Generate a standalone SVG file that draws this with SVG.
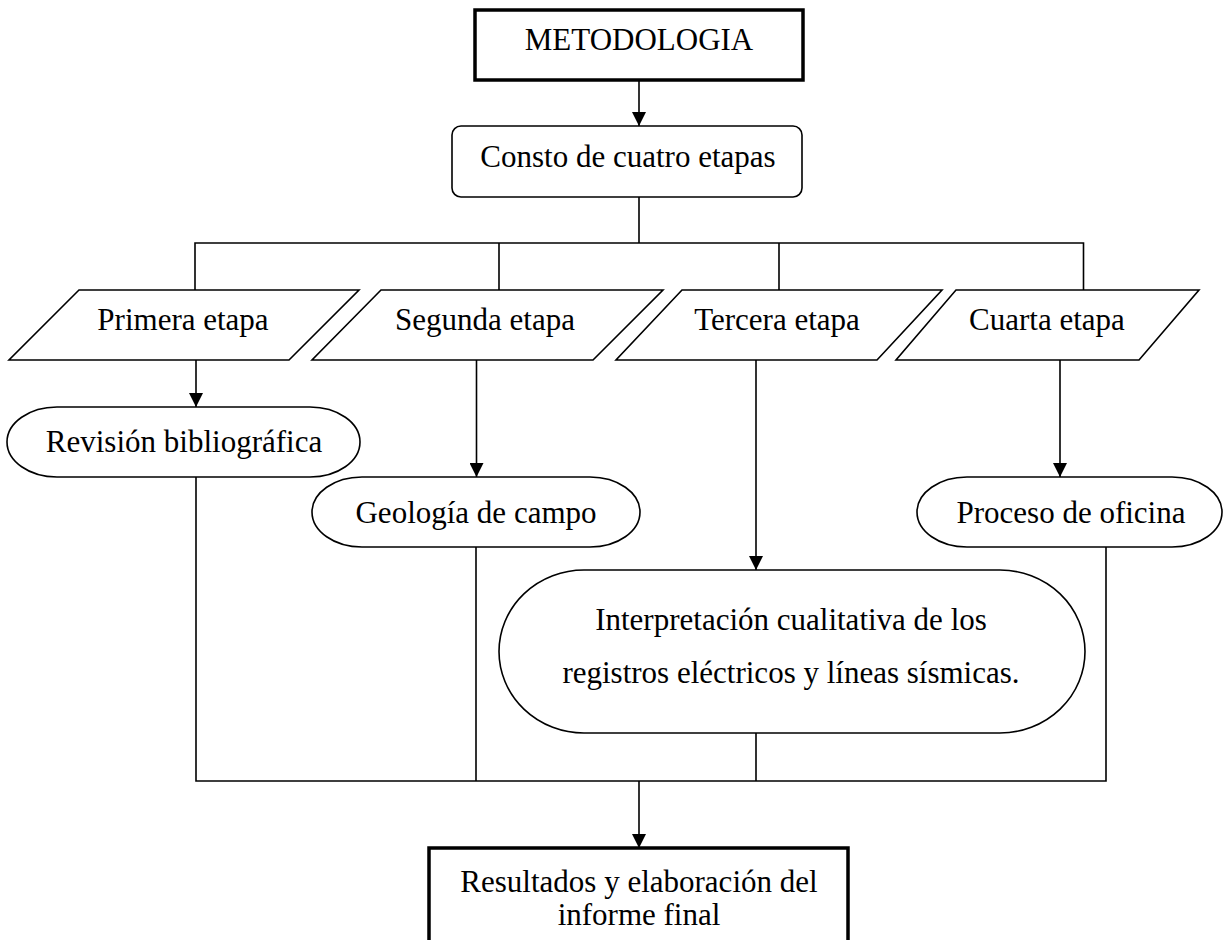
<svg xmlns="http://www.w3.org/2000/svg" width="1224" height="940" viewBox="0 0 1224 940">
<defs>
<style>
.n{fill:#fff;stroke:#000;stroke-width:1.6}
.k{fill:#fff;stroke:#000;stroke-width:3.5}
.c{fill:none;stroke:#000;stroke-width:1.6}
text{font-family:"Liberation Serif","Times New Roman",serif;font-size:31px;fill:#000;text-anchor:middle}
</style>
<marker id="ah" markerUnits="userSpaceOnUse" markerWidth="14" markerHeight="14" refX="14" refY="7" orient="auto">
<path d="M0,0 L14,7 L0,14 Z" fill="#000"/>
</marker>
</defs>
<rect width="1224" height="940" fill="#fff"/>
<g id="connectors">
<path class="c" d="M639,80 V126" marker-end="url(#ah)"/>
<path class="c" d="M639,197 V243 M195,290 V243 H1083.5 V290 M499,243 V290 M779,243 V290"/>
<path class="c" d="M196,360 V407" marker-end="url(#ah)"/>
<path class="c" d="M476.5,360 V477" marker-end="url(#ah)"/>
<path class="c" d="M756,360 V570" marker-end="url(#ah)"/>
<path class="c" d="M1060,360 V477" marker-end="url(#ah)"/>
<path class="c" d="M196,477 V781 H1106 V547 M476,547 V781 M756,733 V781"/>
<path class="c" d="M639,781 V848" marker-end="url(#ah)"/>
</g>
<g id="metodologia">
<rect class="k" x="475" y="10" width="328" height="70"/>
<text x="639" y="50">METODOLOGIA</text>
</g>
<g id="consto">
<rect class="n" x="452" y="126" width="350" height="71" rx="9"/>
<text x="628" y="167">Consto de cuatro etapas</text>
</g>
<g id="primera">
<polygon class="n" points="79,290 359,290 289,360 9,360"/>
<text x="183" y="330">Primera etapa</text>
</g>
<g id="segunda">
<polygon class="n" points="381,290 663,290 593,360 312,360"/>
<text x="485" y="330">Segunda etapa</text>
</g>
<g id="tercera">
<polygon class="n" points="682,290 942,290 877,360 616,360"/>
<text x="777" y="330">Tercera etapa</text>
</g>
<g id="cuarta">
<polygon class="n" points="956,290 1199,290 1139,360 896,360"/>
<text x="1047" y="330">Cuarta etapa</text>
</g>
<g id="revision">
<rect class="n" x="7" y="407" width="353" height="70" rx="50" ry="35"/>
<text x="184" y="452">Revisión bibliográfica</text>
</g>
<g id="geologia">
<rect class="n" x="312" y="477" width="328" height="70" rx="50" ry="35"/>
<text x="476" y="523">Geología de campo</text>
</g>
<g id="proceso">
<rect class="n" x="917" y="477" width="305" height="70" rx="50" ry="35"/>
<text x="1071" y="523">Proceso de oficina</text>
</g>
<g id="interpretacion">
<rect class="n" x="499" y="570" width="586" height="163" rx="85" ry="81.5"/>
<text x="791" y="630">Interpretación cualitativa de los</text>
<text x="791" y="683">registros eléctricos y líneas sísmicas.</text>
</g>
<g id="resultados">
<rect class="k" x="429" y="848" width="419" height="100"/>
<text x="639" y="892">Resultados y elaboración del</text>
<text x="639" y="925">informe final</text>
</g>
</svg>
